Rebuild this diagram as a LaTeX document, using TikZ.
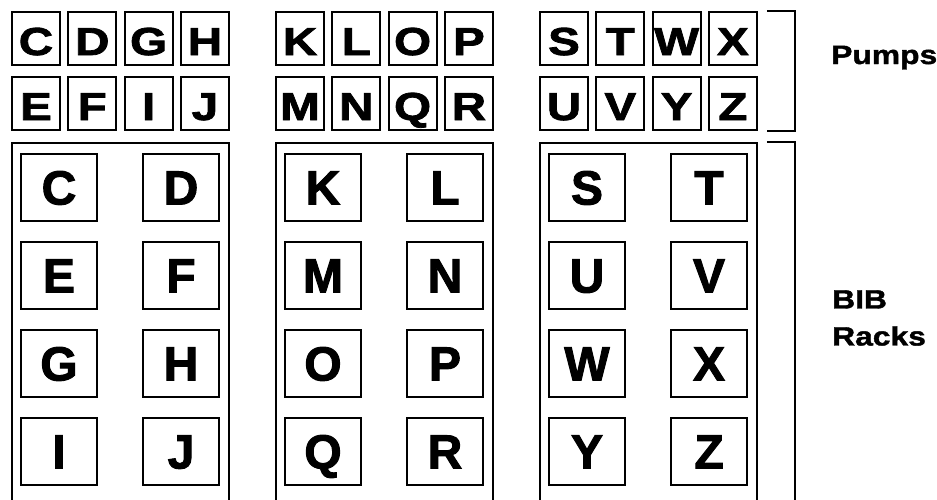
\documentclass[tikz,border=0pt]{standalone}
\usepackage{fontspec}
\setmainfont{Liberation Sans}
\newfontfamily\pumpfont[FakeStretch=1.22, FakeBold=2]{Liberation Sans Bold}
\newfontfamily\slotfont[FakeBold=2]{Liberation Sans Bold}
\newfontfamily\labelfont[FakeStretch=1.2, FakeBold=1.5]{Liberation Sans Bold}
\usetikzlibrary{positioning}
\tikzset{
	bibPump/.style={
		draw,
		line width=1.8pt,
		minimum width=48pt,
		minimum height=53pt,
		inner sep=0pt,
		text height=33pt,
		text depth=0pt,
		font=\pumpfont\fontsize{39}{39}\selectfont
	},
	bibSlot/.style={
		draw,
		line width=1.4pt,
		minimum width=76pt,
		minimum height=67pt,
		inner sep=0pt,
		text height=34pt,
		text depth=0pt,
		font=\slotfont\fontsize{48}{48}\selectfont
	},
	bibRack/.style={
		draw,
		line width=1.8pt,
		minimum width=217pt,
		minimum height=377pt,
		inner sep=0pt
	},
	bibBracket/.style={line width=1.8pt},
	bibLabel/.style={
		inner sep=0pt,
		font=\labelfont\fontsize{26.5}{37}\selectfont
	}
}
\begin{document}
\begin{tikzpicture}[x=1pt, y=-1pt]

			\useasboundingbox (0,0) rectangle (937,499);
			\clip (0,0) rectangle (937,499);

			% Pumps
			\foreach \ltr [count=\i from 0] in {C,D,G,H,K,L,O,P,S,T,W,X}{
				\pgfmathsetmacro{\xpos}{36+264*floor(\i/4)+56.3*mod(\i,4)}
				\node[bibPump] (p\ltr) at (\xpos,38.5) {\ltr};
			}
			\foreach \ltr [count=\i from 0] in {E,F,I,J,M,N,Q,R,U,V,Y,Z}{
				\pgfmathsetmacro{\xpos}{36+264*floor(\i/4)+56.3*mod(\i,4)}
				\node[bibPump] (p\ltr) at (\xpos,103.5) {\ltr};
			}

			% BIB racks
			\foreach \g in {0,1,2}{
				\node[bibRack] (rack\g) at (120.5+264*\g,331.5) {};
			}
			\foreach \ltr [count=\i from 0] in {C,D,E,F,G,H,I,J,K,L,M,N,O,P,Q,R,S,T,U,V,W,X,Y,Z}{
				\pgfmathsetmacro{\xpos}{59+264*floor(\i/8)+122*mod(\i,2)}
				\pgfmathsetmacro{\ypos}{187.5+88*floor(mod(\i,8)/2)}
				\node[bibSlot] (s\ltr) at (\xpos,\ypos) {\ltr};
			}

			% Brackets
			\draw[bibBracket] ([xshift=9pt]pX.north east) -| ([xshift=37pt]pZ.south east) -- ([xshift=9pt]pZ.south east);
			\draw[bibBracket] ([xshift=9pt]rack2.north east) -| ([xshift=37pt]rack2.south east);

			% Labels
			\node[bibLabel, anchor=base west] (pumpsLabel) at (831,64) {Pumps};
			\node[bibLabel, align=left, anchor=west] (racksLabel) at (832,318) {BIB\\Racks};

		\end{tikzpicture}
\end{document}
